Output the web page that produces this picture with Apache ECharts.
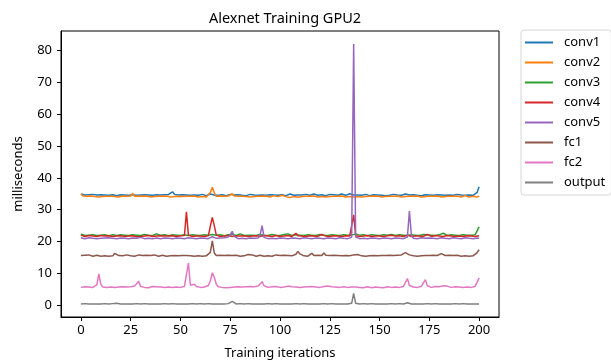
<!DOCTYPE html>
<html><head><meta charset="utf-8">
<script src="https://cdn.jsdelivr.net/npm/echarts@6/dist/echarts.min.js"></script>
<style>html,body{margin:0;padding:0;background:#fff}#c{width:611px;height:361px}</style>
</head><body><div id="c"></div>
<script>
const seriesNames = ["conv1","conv2","conv3","conv4","conv5","fc1","fc2","output"];
const xTicks = [0,25,50,75,100,125,150,175,200];
const yTicks = [0,10,20,30,40,50,60,70,80];
const conv1 = [
34.9,34.5,34.6,34.4,34.7,34.5,34.8,34.9,34.6,34.5,34.7,34.4,34.6,34.8,34.5,34.6,34.7,34.5,34.4,34.6,
34.7,34.5,34.6,34.8,34.5,34.4,34.7,34.6,34.5,34.9,34.6,34.5,34.7,34.4,34.6,34.8,34.5,34.6,34.7,34.5,
34.6,34.4,34.7,34.5,34.8,35.1,35.6,34.8,34.5,34.6,34.4,34.7,34.5,34.6,34.8,34.5,34.4,34.6,34.7,34.5,
34.6,34.8,34.5,34.4,34.6,34.9,34.7,34.6,34.8,34.5,34.6,34.7,34.5,34.4,34.6,34.8,34.9,34.6,34.5,34.7,
34.6,34.5,34.7,34.4,34.6,34.8,34.5,34.6,34.7,34.5,34.4,34.6,34.8,34.5,34.6,34.7,34.5,34.6,34.8,34.5,
34.6,34.7,34.5,34.4,34.6,34.9,34.6,34.5,34.7,34.6,34.4,34.6,34.5,34.8,34.6,34.5,34.7,34.9,34.6,34.5,
34.6,34.7,34.5,34.4,34.6,34.8,34.5,34.7,34.6,34.5,34.8,34.9,34.6,34.5,34.7,35.0,34.8,34.6,34.5,34.6,
34.7,34.5,34.6,34.8,34.5,34.4,34.6,34.7,34.5,34.6,34.8,34.5,34.6,34.4,34.7,34.5,34.6,34.8,34.5,34.6,
34.7,34.5,34.6,34.9,35.1,34.6,34.5,34.7,34.8,34.5,34.6,34.4,34.6,34.7,34.5,34.6,34.8,34.5,34.6,34.7,
34.5,34.6,34.8,34.5,34.4,34.6,34.7,34.5,34.6,34.8,34.5,34.6,34.7,34.5,34.4,34.6,34.7,34.5,34.6,35.4,
37.2];
const conv2 = [
35.0,34.3,34.1,34.2,34.0,34.3,34.2,34.1,34.3,34.0,34.2,34.1,34.3,34.2,34.0,34.2,34.3,34.1,34.2,34.0,
34.2,34.3,34.1,34.2,34.0,34.3,35.1,34.2,34.1,34.3,34.0,34.2,34.1,34.3,34.2,34.0,34.2,34.1,34.3,34.2,
34.0,34.2,34.1,34.3,34.2,34.0,34.2,34.1,34.3,34.2,34.0,34.1,34.3,34.2,34.0,34.2,34.1,34.3,34.2,34.0,
34.2,34.1,34.3,34.0,34.3,35.4,37.0,35.3,34.2,34.1,34.3,34.0,34.2,34.1,34.3,34.2,35.0,34.3,34.1,34.2,
34.0,34.2,34.3,34.1,34.2,34.0,34.2,34.1,34.3,34.2,34.0,34.2,34.1,34.3,34.2,34.0,34.3,34.4,34.2,34.1,
34.3,34.5,34.4,34.1,34.0,33.8,34.2,34.1,34.0,33.9,34.2,34.1,34.3,34.2,34.0,34.2,34.1,34.3,34.2,34.0,
34.2,34.1,34.3,34.0,34.2,34.1,34.3,34.2,34.0,34.2,34.1,34.3,34.2,34.0,34.2,34.1,34.4,34.0,34.2,34.1,
34.3,34.0,34.2,34.1,34.3,34.2,34.0,34.2,34.1,34.3,34.2,34.0,34.2,34.1,34.3,34.2,34.0,34.2,34.1,34.3,
34.2,34.0,34.2,34.1,34.3,34.2,34.0,34.2,34.1,34.3,34.2,34.0,34.2,34.1,34.3,34.2,34.0,34.2,34.1,34.3,
34.2,34.0,34.2,34.1,34.3,34.2,34.0,34.2,34.1,34.3,34.2,34.0,34.2,34.4,34.3,34.0,33.9,34.2,34.1,34.0,
34.2];
const conv3 = [
22.3,22.0,21.9,22.1,22.0,21.8,22.1,22.0,21.9,22.2,22.0,21.9,22.1,22.0,21.8,22.0,22.1,22.3,21.9,22.0,
22.1,21.9,22.0,22.2,21.9,22.0,22.1,21.8,22.0,22.1,21.9,22.0,22.2,21.9,22.0,22.1,21.9,22.0,22.4,22.1,
22.0,21.9,22.1,22.0,21.8,22.0,22.1,21.9,22.0,22.2,21.9,22.0,22.1,22.0,21.9,22.0,22.1,21.9,22.0,22.2,
21.9,22.0,22.1,21.9,22.0,22.3,22.2,22.1,22.0,21.9,22.1,22.0,21.8,22.0,22.1,22.0,22.3,22.1,21.9,22.0,
22.4,22.0,21.9,22.1,22.0,21.8,22.0,22.1,21.9,22.0,22.2,21.9,22.0,22.1,21.9,22.0,22.2,21.9,22.0,22.1,
21.9,22.0,22.2,22.3,22.4,22.1,21.9,22.0,22.1,21.9,22.0,22.2,21.9,22.0,22.1,21.9,22.0,22.1,21.9,22.0,
22.2,21.9,22.0,22.1,21.9,22.0,22.1,21.9,22.0,22.2,21.9,22.0,22.1,21.9,22.0,22.1,22.0,22.3,22.4,22.0,
22.0,21.9,22.1,22.0,21.8,22.0,22.1,21.9,22.0,22.2,21.9,22.0,22.1,21.9,22.0,22.1,22.2,22.3,21.9,22.0,
22.1,21.9,22.0,22.2,21.9,22.0,22.1,21.9,22.0,22.1,21.9,22.0,22.2,22.4,22.1,21.9,22.0,22.1,21.9,22.0,
22.1,22.0,22.6,22.3,21.9,22.0,22.1,21.9,22.0,22.2,21.9,22.0,22.1,21.9,22.0,22.1,22.0,21.9,22.1,22.3,
24.6];
const conv4 = [
22.0,21.8,21.6,21.7,21.9,21.6,21.7,21.8,21.6,21.7,21.9,21.6,21.7,21.5,21.8,21.7,21.6,21.9,21.7,21.6,
21.8,21.7,21.6,21.9,21.7,21.6,21.8,21.7,21.5,21.7,21.6,21.8,21.7,21.6,21.9,21.7,21.6,21.8,21.7,22.3,
21.8,21.6,21.7,21.9,21.7,21.6,21.8,21.7,21.6,21.7,21.8,21.6,21.9,29.3,22.0,21.7,21.6,21.8,21.7,21.6,
21.7,21.9,21.6,21.7,21.8,24.8,27.6,25.0,22.0,21.7,21.6,21.8,21.7,21.6,21.9,21.7,21.6,21.8,21.7,22.3,
21.7,21.6,21.8,21.7,21.6,21.9,21.7,21.6,21.8,21.7,21.6,21.7,21.9,21.6,21.7,21.8,21.6,21.7,21.9,21.7,
21.6,21.8,21.7,21.6,21.9,21.7,21.6,22.1,22.6,21.8,21.6,21.7,21.9,21.6,21.7,21.8,21.6,21.7,21.9,21.6,
21.7,22.2,21.6,21.7,21.9,21.6,21.7,21.8,21.6,21.7,21.9,21.6,21.7,21.8,21.6,21.7,21.9,28.4,21.8,21.7,
21.6,21.8,21.7,21.6,21.9,21.7,21.6,21.8,21.7,21.6,21.7,21.9,21.6,21.7,21.8,21.6,22.0,22.1,21.7,21.6,
21.8,21.7,21.6,21.9,22.0,21.7,21.6,21.8,21.7,21.6,21.7,21.9,21.6,22.0,22.2,21.8,21.6,21.7,21.9,21.6,
21.7,21.8,21.6,21.7,21.9,21.6,21.7,21.8,21.6,22.1,21.7,21.9,21.6,21.7,21.8,21.6,21.7,21.9,21.6,21.7,
21.8];
const conv5 = [
21.2,21.0,20.9,21.1,21.2,20.9,21.0,21.1,20.9,21.2,21.0,20.9,21.1,21.0,21.2,20.9,21.0,21.1,20.9,21.0,
21.1,20.9,21.0,21.2,20.9,21.0,21.1,20.9,21.0,21.1,21.3,21.0,20.9,21.1,21.0,21.2,20.9,21.0,21.1,21.2,
20.9,21.0,21.1,20.9,21.0,21.2,20.9,21.0,21.1,20.9,21.0,21.1,20.9,21.0,21.2,20.9,21.0,21.1,20.9,21.0,
21.1,20.9,21.0,21.2,20.9,21.3,21.5,21.2,21.0,20.9,21.1,21.0,21.2,20.9,21.4,22.1,23.2,21.6,21.0,20.9,
21.1,21.0,21.2,20.9,21.0,21.1,20.9,21.0,21.2,21.1,22.0,25.0,21.3,21.0,20.9,21.1,21.0,21.2,20.9,21.0,
21.1,20.9,21.0,21.2,20.9,21.0,21.1,20.9,21.0,21.1,20.9,21.0,21.2,20.9,21.0,21.1,20.9,21.0,21.1,20.9,
21.0,21.2,20.9,21.0,21.1,20.9,21.0,21.1,20.9,21.0,21.2,20.9,21.0,21.1,20.9,21.0,21.3,82.0,21.4,21.0,
20.9,21.1,21.0,21.2,20.9,21.0,21.1,20.9,21.0,21.2,20.9,21.0,21.1,20.9,21.0,21.2,20.9,21.0,21.1,20.9,
21.0,21.1,20.9,21.0,21.4,29.6,22.0,21.0,21.1,20.9,21.0,21.2,20.9,21.0,21.6,21.1,20.9,21.0,21.1,20.9,
21.0,21.2,20.9,21.0,21.1,20.9,21.0,21.2,20.9,21.0,21.1,20.9,21.0,21.2,20.9,21.0,21.1,20.9,21.0,21.1,
21.0];
const fc1 = [
15.6,15.4,15.7,15.5,15.8,15.6,15.4,15.5,15.7,15.6,15.4,15.6,15.5,15.7,15.4,15.6,15.5,16.3,16.1,15.6,
15.7,15.5,15.4,15.8,15.6,15.5,15.7,15.4,15.6,15.8,16.0,15.6,15.5,15.7,15.4,15.6,15.5,15.8,15.6,15.4,
15.5,15.7,15.6,15.4,15.6,15.5,15.8,15.6,15.4,15.5,15.7,15.6,15.4,15.6,15.8,15.5,15.7,15.4,15.6,15.5,
15.7,15.4,15.6,15.5,15.8,16.6,20.2,16.4,15.6,15.5,15.7,15.4,15.6,15.5,15.7,15.4,15.6,15.5,15.7,15.6,
15.4,15.6,15.5,15.7,15.9,16.2,15.8,15.6,15.4,15.5,15.7,15.6,15.4,15.6,15.5,15.7,15.4,15.6,15.8,15.5,
15.6,15.4,15.7,15.5,15.6,15.8,15.5,15.7,16.0,16.9,16.1,15.7,15.5,15.6,15.4,15.7,16.3,15.6,15.5,15.7,
15.4,15.6,16.4,15.7,15.5,15.6,15.4,15.7,15.5,15.6,15.8,15.5,15.4,15.6,15.7,15.5,15.6,15.8,16.4,15.9,
15.6,15.5,15.7,15.4,15.6,15.5,15.7,15.6,15.4,15.5,15.7,15.6,15.4,15.6,15.5,15.7,15.4,15.6,15.5,15.7,
15.6,15.8,16.0,16.5,17.0,15.8,15.6,15.5,15.7,15.4,15.6,15.5,15.7,15.6,15.4,15.6,15.5,15.7,15.4,15.6,
15.5,16.2,15.8,15.6,15.5,15.7,15.4,15.6,15.5,15.7,15.6,15.4,15.6,15.5,15.7,15.4,15.6,15.5,16.0,16.5,
17.4];
const fc2 = [
5.6,5.5,5.8,6.2,5.7,5.5,5.6,5.8,6.4,9.8,6.6,5.7,5.5,5.6,5.8,5.7,5.5,5.6,5.9,5.7,
5.6,5.8,5.5,5.7,5.6,5.8,5.9,6.0,6.4,7.5,5.9,5.7,5.6,5.8,5.5,5.7,5.9,5.6,5.8,6.0,
5.7,5.5,5.6,5.8,5.7,5.9,5.6,5.5,5.7,5.8,5.6,5.7,5.9,6.4,13.2,6.3,5.8,6.6,5.9,5.7,
5.6,5.8,5.7,5.9,6.2,7.6,10.2,8.8,6.6,5.8,5.7,5.6,5.8,5.5,5.7,5.6,5.9,5.7,5.6,5.8,
5.9,5.7,5.6,5.8,5.7,5.9,5.6,5.8,5.7,6.0,6.5,7.4,6.1,5.8,5.6,5.7,5.8,5.6,5.9,5.7,
5.6,5.8,5.7,5.9,6.0,6.2,5.8,5.6,5.7,5.9,5.6,5.8,5.7,5.6,5.8,5.7,5.9,5.6,5.7,5.8,
5.6,5.7,5.9,5.8,6.0,6.3,5.8,5.6,5.7,5.9,5.6,6.0,5.8,5.7,5.6,5.8,5.7,5.6,5.7,5.5,
5.6,5.7,5.5,5.6,5.8,5.7,5.5,5.6,5.7,5.8,5.6,5.7,5.5,5.6,5.8,5.7,5.6,5.5,5.7,5.8,
5.6,5.7,5.9,6.4,8.4,6.2,5.9,5.7,5.8,5.6,5.7,5.9,6.3,8.0,6.1,5.8,5.6,5.7,5.9,5.6,
5.8,5.9,6.1,6.3,6.0,5.8,5.6,5.7,5.8,5.6,5.7,5.9,5.6,5.5,5.7,5.8,5.6,5.7,5.9,6.2,
8.6];
const output = [
0.4,0.4,0.5,0.4,0.4,0.5,0.4,0.4,0.4,0.5,0.4,0.4,0.5,0.4,0.4,0.4,0.5,0.4,0.6,0.4,
0.4,0.5,0.4,0.4,0.4,0.5,0.4,0.4,0.5,0.4,0.4,0.4,0.5,0.4,0.4,0.5,0.4,0.4,0.4,0.5,
0.4,0.4,0.5,0.4,0.4,0.4,0.5,0.4,0.4,0.5,0.4,0.4,0.4,0.5,0.4,0.4,0.5,0.4,0.4,0.4,
0.5,0.4,0.4,0.4,0.5,0.4,0.4,0.5,0.4,0.4,0.4,0.5,0.4,0.4,0.5,0.6,1.2,0.6,0.4,0.4,
0.5,0.4,0.4,0.4,0.5,0.4,0.4,0.5,0.4,0.4,0.4,0.5,0.4,0.4,0.5,0.4,0.4,0.4,0.5,0.4,
0.4,0.5,0.4,0.4,0.4,0.5,0.4,0.4,0.5,0.4,0.4,0.4,0.5,0.4,0.4,0.5,0.4,0.4,0.4,0.5,
0.4,0.4,0.5,0.4,0.4,0.4,0.5,0.4,0.4,0.5,0.4,0.4,0.4,0.5,0.4,0.4,0.6,3.7,0.6,0.4,
0.4,0.4,0.5,0.4,0.4,0.4,0.5,0.4,0.4,0.5,0.4,0.4,0.4,0.5,0.4,0.4,0.5,0.4,0.4,0.4,
0.5,0.4,0.4,0.5,0.8,0.4,0.4,0.5,0.4,0.4,0.4,0.5,0.4,0.4,0.5,0.4,0.4,0.4,0.5,0.4,
0.4,0.5,0.4,0.4,0.4,0.5,0.4,0.4,0.5,0.4,0.4,0.4,0.5,0.4,0.4,0.5,0.4,0.4,0.4,0.5,
0.4];
const allData = [conv1, conv2, conv3, conv4, conv5, fc1, fc2, output];
const colors = ['#1f77b4','#ff7f0e','#2ca02c','#d62728','#9467bd','#8c564b','#e377c2','#7f7f7f'];

const FONT = 'Noto Sans';
const chart = echarts.init(document.getElementById('c'), null, {renderer: 'canvas'});
chart.setOption({
  animation: false,
  backgroundColor: '#fff',
  color: colors,
  textStyle: {fontFamily: FONT},
  title: {
    text: 'Alexnet Training GPU2', left: 280, top: 6, textAlign: 'center',
    textStyle: {fontFamily: FONT, fontSize: 14.5, fontWeight: 'normal', color: '#000'}
  },
  grid: {left: 61, right: 112, top: 31, bottom: 44, outerBoundsMode: 'none', containLabel: false,
         show: true, borderColor: '#000', borderWidth: 1, backgroundColor: 'transparent'},
  legend: {
    orient: 'vertical', left: 521, top: 30,
    data: seriesNames,
    icon: 'rect', itemWidth: 28, itemHeight: 2, itemGap: 5,
    padding: [5, 6, 5, 4],
    borderColor: '#d6d6d6', borderWidth: 1, borderRadius: 3,
    textStyle: {fontFamily: FONT, fontSize: 13, color: '#000', lineHeight: 15, padding: [0, 0, 0, 6]}
  },
  xAxis: {
    type: 'value', min: -10, max: 210,
    name: 'Training iterations', nameLocation: 'middle', nameGap: 30,
    nameTextStyle: {fontFamily: FONT, fontSize: 13, color: '#000'},
    axisLine: {show: true, onZero: false, lineStyle: {color: '#000'}},
    axisTick: {show: true, length: 4, inside: false, lineStyle: {color: '#000'}, customValues: xTicks},
    axisLabel: {fontFamily: FONT, fontSize: 13, color: '#000', margin: 7, customValues: xTicks},
    splitLine: {show: false}
  },
  yAxis: {
    type: 'value', min: -3.7, max: 86.1,
    name: 'milliseconds', nameLocation: 'middle', nameGap: 36,
    nameTextStyle: {fontFamily: FONT, fontSize: 13, color: '#000'},
    axisLine: {show: true, onZero: false, lineStyle: {color: '#000'}},
    axisTick: {show: true, length: 4, lineStyle: {color: '#000'}, customValues: yTicks},
    axisLabel: {fontFamily: FONT, fontSize: 13, color: '#000', margin: 9, customValues: yTicks},
    splitLine: {show: false}
  },
  series: seriesNames.map((n, i) => ({
    name: n, type: 'line', showSymbol: false, symbol: 'none',
    data: allData[i].map((v, k) => [k, v]),
    lineStyle: {width: 1.5, color: colors[i]},
    itemStyle: {color: colors[i]}
  }))
});
</script></body></html>
